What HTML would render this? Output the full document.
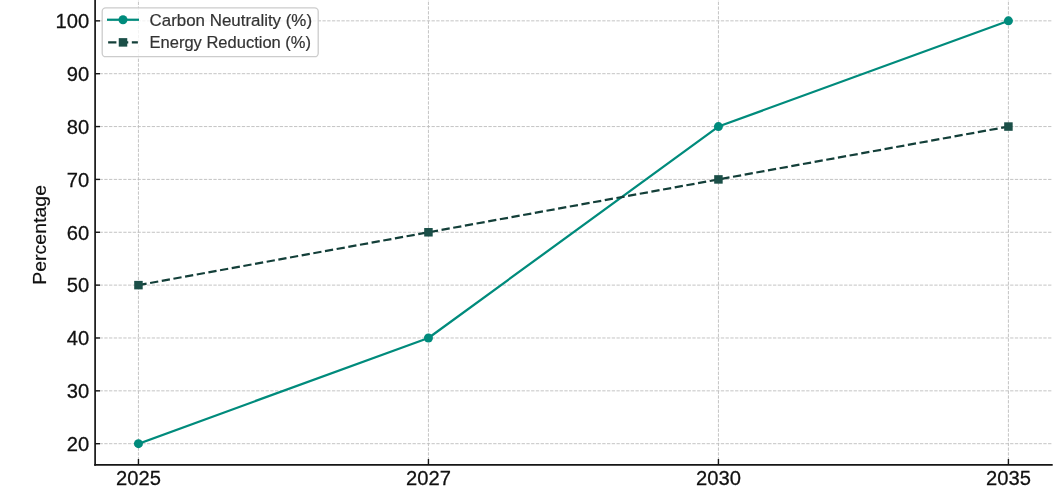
<!DOCTYPE html>
<html><head><meta charset="utf-8"><style>
html,body{margin:0;padding:0;background:#fff;}
svg{display:block;will-change:transform;}
.g{stroke:#bdbdbd;stroke-width:0.9;stroke-dasharray:3.31 1.4325;fill:none;}
text{font-family:"Liberation Sans",sans-serif;}
.t{font-size:19.4px;fill:#111;stroke:#111;stroke-width:0.25px;}
.yl{font-size:19px;fill:#111;stroke:#111;stroke-width:0.2px;}
.lg{font-size:16.5px;fill:#333;stroke:#333;stroke-width:0.2px;}
</style></head><body>
<svg width="1062" height="495" viewBox="0 0 1062 495">
<line x1="94.815" y1="443.69" x2="1051.80" y2="443.69" class="g"/>
<line x1="94.815" y1="390.84" x2="1051.80" y2="390.84" class="g"/>
<line x1="94.815" y1="337.98" x2="1051.80" y2="337.98" class="g"/>
<line x1="94.815" y1="285.12" x2="1051.80" y2="285.12" class="g"/>
<line x1="94.815" y1="232.27" x2="1051.80" y2="232.27" class="g"/>
<line x1="94.815" y1="179.41" x2="1051.80" y2="179.41" class="g"/>
<line x1="94.815" y1="126.56" x2="1051.80" y2="126.56" class="g"/>
<line x1="94.815" y1="73.70" x2="1051.80" y2="73.70" class="g"/>
<line x1="94.815" y1="20.85" x2="1051.80" y2="20.85" class="g"/>
<line x1="138.45" y1="465.05" x2="138.45" y2="-0.30" class="g"/>
<line x1="428.44" y1="465.05" x2="428.44" y2="-0.30" class="g"/>
<line x1="718.43" y1="465.05" x2="718.43" y2="-0.30" class="g"/>
<line x1="1008.42" y1="465.05" x2="1008.42" y2="-0.30" class="g"/>
<polyline points="138.45,443.69 428.44,337.98 718.43,126.56 1008.42,20.85" fill="none" stroke="#008b7c" stroke-width="2.25" stroke-linejoin="round" stroke-linecap="square"/>
<circle cx="138.45" cy="443.69" r="4.5" fill="#008b7c"/>
<circle cx="428.44" cy="337.98" r="4.5" fill="#008b7c"/>
<circle cx="718.43" cy="126.56" r="4.5" fill="#008b7c"/>
<circle cx="1008.42" cy="20.85" r="4.5" fill="#008b7c"/>
<polyline points="138.45,285.12 428.44,232.27 718.43,179.41 1008.42,126.56" fill="none" stroke="#133f39" stroke-width="2.25" stroke-dasharray="8.27 3.58" stroke-linejoin="round"/>
<rect x="134.20" y="280.88" width="8.5" height="8.5" fill="#1b4f48"/>
<rect x="424.19" y="228.02" width="8.5" height="8.5" fill="#1b4f48"/>
<rect x="714.18" y="175.16" width="8.5" height="8.5" fill="#1b4f48"/>
<rect x="1004.17" y="122.31" width="8.5" height="8.5" fill="#1b4f48"/>
<line x1="95.10" y1="-0.30" x2="95.10" y2="465.75" stroke="#161616" stroke-width="1.7"/>
<line x1="94.25" y1="464.90" x2="1052.70" y2="464.90" stroke="#161616" stroke-width="1.7"/>
<line x1="95.10" y1="443.69" x2="100.00" y2="443.69" stroke="#161616" stroke-width="1.4"/>
<line x1="95.10" y1="390.84" x2="100.00" y2="390.84" stroke="#161616" stroke-width="1.4"/>
<line x1="95.10" y1="337.98" x2="100.00" y2="337.98" stroke="#161616" stroke-width="1.4"/>
<line x1="95.10" y1="285.12" x2="100.00" y2="285.12" stroke="#161616" stroke-width="1.4"/>
<line x1="95.10" y1="232.27" x2="100.00" y2="232.27" stroke="#161616" stroke-width="1.4"/>
<line x1="95.10" y1="179.41" x2="100.00" y2="179.41" stroke="#161616" stroke-width="1.4"/>
<line x1="95.10" y1="126.56" x2="100.00" y2="126.56" stroke="#161616" stroke-width="1.4"/>
<line x1="95.10" y1="73.70" x2="100.00" y2="73.70" stroke="#161616" stroke-width="1.4"/>
<line x1="95.10" y1="20.85" x2="100.00" y2="20.85" stroke="#161616" stroke-width="1.4"/>
<line x1="138.45" y1="464.90" x2="138.45" y2="459.00" stroke="#161616" stroke-width="1.4"/>
<line x1="428.44" y1="464.90" x2="428.44" y2="459.00" stroke="#161616" stroke-width="1.4"/>
<line x1="718.43" y1="464.90" x2="718.43" y2="459.00" stroke="#161616" stroke-width="1.4"/>
<line x1="1008.42" y1="464.90" x2="1008.42" y2="459.00" stroke="#161616" stroke-width="1.4"/>
<text x="0" y="0" transform="translate(89.19,451) scale(1.04,1)" text-anchor="end" class="t">20</text>
<text x="0" y="0" transform="translate(89.19,398) scale(1.04,1)" text-anchor="end" class="t">30</text>
<text x="0" y="0" transform="translate(89.19,345) scale(1.04,1)" text-anchor="end" class="t">40</text>
<text x="0" y="0" transform="translate(89.19,292) scale(1.04,1)" text-anchor="end" class="t">50</text>
<text x="0" y="0" transform="translate(89.19,240) scale(1.04,1)" text-anchor="end" class="t">60</text>
<text x="0" y="0" transform="translate(89.19,187) scale(1.04,1)" text-anchor="end" class="t">70</text>
<text x="0" y="0" transform="translate(89.19,134) scale(1.04,1)" text-anchor="end" class="t">80</text>
<text x="0" y="0" transform="translate(89.19,81) scale(1.04,1)" text-anchor="end" class="t">90</text>
<text x="0" y="0" transform="translate(89.19,28) scale(1.04,1)" text-anchor="end" class="t">100</text>
<text x="0" y="0" transform="translate(138.45,485) scale(1.04,1)" text-anchor="middle" class="t">2025</text>
<text x="0" y="0" transform="translate(428.44,485) scale(1.04,1)" text-anchor="middle" class="t">2027</text>
<text x="0" y="0" transform="translate(718.43,485) scale(1.04,1)" text-anchor="middle" class="t">2030</text>
<text x="0" y="0" transform="translate(1008.42,485) scale(1.04,1)" text-anchor="middle" class="t">2035</text>
<text x="0" y="0" transform="translate(46.3,234.9) rotate(-90) scale(1.027,1)" text-anchor="middle" class="yl">Percentage</text>
<rect x="102.2" y="7.9" width="216.0" height="48.8" rx="3.5" ry="3.5" fill="rgba(255,255,255,0.8)" stroke="#cccccc" stroke-width="1.3"/>
<line x1="108.13" y1="19.75" x2="137.87" y2="19.75" stroke="#008b7c" stroke-width="2.25" stroke-linecap="square"/>
<circle cx="123.0" cy="19.75" r="4.5" fill="#008b7c"/>
<line x1="108.13" y1="42.3" x2="137.87" y2="42.3" stroke="#133f39" stroke-width="2.25" stroke-dasharray="8.27 3.58"/>
<rect x="118.75" y="38.13" width="8.5" height="8.5" fill="#1b4f48"/>
<text x="0" y="0" transform="translate(149.6,25.9) scale(1.025,1)" class="lg">Carbon Neutrality (%)</text>
<text x="149.6" y="47.9" class="lg">Energy Reduction (%)</text>
</svg>
</body></html>
